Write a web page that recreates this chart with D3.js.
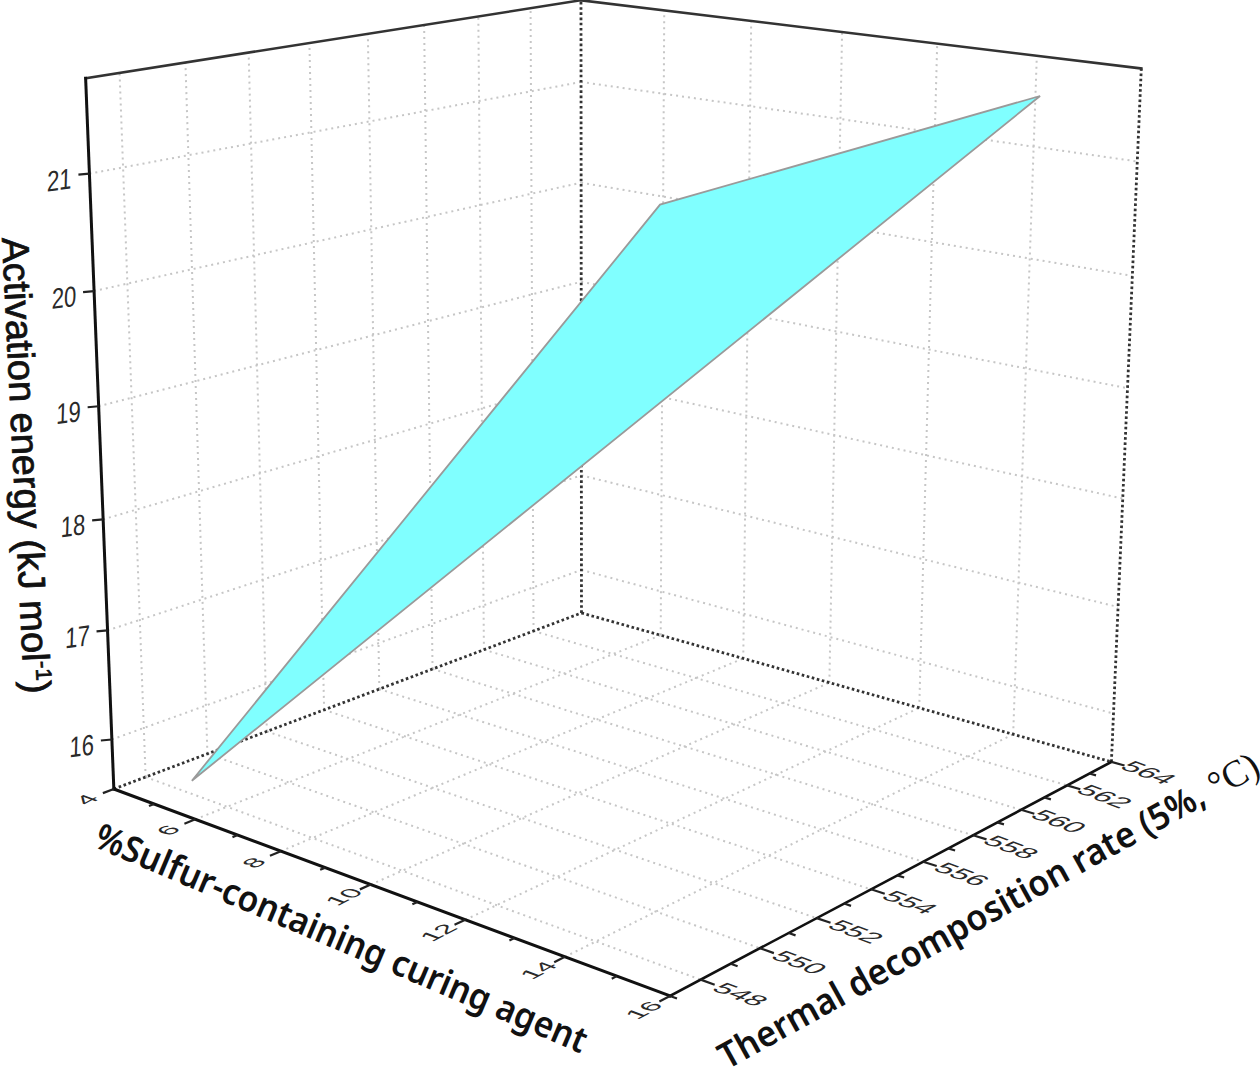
<!DOCTYPE html>
<html><head><meta charset="utf-8"><style>html,body{margin:0;background:#fff}svg{display:block}</style>
<script src="https://cdn.jsdelivr.net/npm/d3@7"></script></head><body><script>
// ---- data ----
const sulfur=[5,10,15];
const decomposition=[548.2,556.94,561.97];
const activation=[15.62,20.6,21.6];
const xMajor=[4,6,8,10,12,14,16];
const xMinor=[5,7,9,11,13,15];
const yMajor=[548,550,552,554,556,558,560,562,564];
const yMinor=[547,549,551,553,555,557,559,561,563];
const zMajor=[16,17,18,19,20,21];
const xDomain=[4,16], yDomain=[547,564], zDomain=[15.54,21.8];
const xTitle="%Sulfur-containing curing agent";
const yTitle="Thermal decomposition rate (5%,";
const yTitleUnit="°C)";
const zTitle="Activation energy (kJ mol";

// ---- camera ----
const camera=[[461.401,564.8815,-32.9846,113.8415],[66.0796,-73.5219,-715.1761,789.0073],[-0.141407,0.167243,-0.05576,1]];
const sx=d3.scaleLinear().domain(xDomain).range([0,1]);
const sy=d3.scaleLinear().domain(yDomain).range([0,1]);
const sz=d3.scaleLinear().domain(zDomain).range([0,1]);
function P(x,y,z){const u=sx(x),v=sy(y),w=sz(z);
  const h=camera[2][0]*u+camera[2][1]*v+camera[2][2]*w+camera[2][3];
  return [(camera[0][0]*u+camera[0][1]*v+camera[0][2]*w+camera[0][3])/h,
          (camera[1][0]*u+camera[1][1]*v+camera[1][2]*w+camera[1][3])/h];}
const [x0,x1]=xDomain,[y0,y1]=yDomain,[z0,z1]=zDomain;
const unit=(a,b)=>{const d=Math.hypot(b[0]-a[0],b[1]-a[1]);return [(b[0]-a[0])/d,(b[1]-a[1])/d];};
const ex=unit(P(x0,y0,z0),P(x1,y0,z0)), ey=unit(P(x1,y0,z0),P(x1,y1,z0));

const svg=d3.select("body").append("svg").attr("width",1260).attr("height",1068);
const line=d3.line();
const seg=(a,b,cls)=>svg.append("path").attr("d",line([a,b])).attr("fill","none").call(cls);
const grid=s=>s.attr("stroke","#c6c6c6").attr("stroke-width",2).attr("stroke-dasharray","2 4");
const dark=s=>s.attr("stroke","#333").attr("stroke-width",2.8).attr("stroke-dasharray","2.6 2.6");
const solid=(w,c)=>s=>s.attr("stroke",c).attr("stroke-width",w).attr("stroke-linecap","square");

// ---- grid on the walls and floor ----
const gridX=xMajor.slice(1,-1), gridY=yMajor.slice(0,-1);
gridX.forEach(x=>{seg(P(x,y1,z0),P(x,y1,z1),grid);seg(P(x,y0,z0),P(x,y1,z0),grid);});
gridY.forEach(y=>{seg(P(x0,y,z0),P(x0,y,z1),grid);seg(P(x0,y,z0),P(x1,y,z0),grid);});
zMajor.forEach(z=>{seg(P(x0,y0,z),P(x0,y1,z),grid);seg(P(x0,y1,z),P(x1,y1,z),grid);});

// ---- back edges ----
seg(P(x0,y0,z0),P(x0,y1,z0),dark);
seg(P(x0,y1,z0),P(x1,y1,z0),dark);
seg(P(x0,y1,z0),P(x0,y1,z1),dark);
seg(P(x1,y1,z0),P(x1,y1,z1),dark);

// ---- surface ----
svg.append("path").datum(sulfur.map((x,i)=>P(x,decomposition[i],activation[i])))
  .attr("d",d=>line(d)+"Z").attr("fill","#80ffff").attr("stroke","#9a9a9a").attr("stroke-width",1.8).attr("stroke-linejoin","miter");

// ---- frame ----
seg(P(x0,y0,z1),P(x0,y1,z1),solid(2.6,"#333"));
seg(P(x0,y1,z1),P(x1,y1,z1),solid(2.6,"#333"));
seg(P(x0,y0,z0),P(x0,y0,z1),solid(3,"#111"));
seg(P(x0,y0,z0),P(x1,y0,z0),solid(3,"#111"));
seg(P(x1,y0,z0),P(x1,y1,z0),solid(2.6,"#111"));

// ---- ticks ----
const tick=s=>s.attr("stroke","#222").attr("stroke-width",2.2);
xMajor.forEach(x=>seg(P(x,y0,z0),P(x,y0-0.34,z0),tick));
xMinor.forEach(x=>seg(P(x,y0,z0),P(x,y0-0.16,z0),tick));
yMajor.forEach(y=>seg(P(x1,y,z0),P(x1+0.26,y,z0),tick));
yMinor.forEach(y=>seg(P(x1,y,z0),P(x1+0.13,y,z0),tick));
zMajor.forEach(z=>{const p=P(x0,y0,z);seg(p,[p[0]-11,p[1]+1],tick);});

// ---- tick labels, lying in the floor plane ----
const numFont="'Liberation Sans',Arial,sans-serif";
const lab=(t,m,size)=>svg.append("text").attr("transform",`matrix(${m.join(" ")})`)
  .attr("text-anchor","middle").attr("dy","0.36em").attr("font-family",numFont).attr("font-size",size).attr("fill","#2a2a2a").text(t);
xMajor.forEach(x=>{const p=P(x,y0-0.85,z0);lab(x,[ey[0]*1.25,ey[1]*1.25,ex[0],ex[1],p[0],p[1]],22);});
yMajor.forEach(y=>{const p=P(x1+0.74,y,z0);lab(y,[ex[0]*1.22,ex[1]*1.22,-ey[0],-ey[1],p[0],p[1]],24);});
zMajor.forEach(z=>{const p=P(x0,y0,z);lab(z,[0.76,-0.1,-0.03,1,p[0]-30,p[1]+6],29);});

// ---- axis titles ----
const titleFont="'Noto Sans','Open Sans',sans-serif";
svg.append("text").attr("transform","translate(92,846) rotate(23)").attr("font-family",titleFont)
  .attr("font-weight",600).attr("font-size",36).attr("fill","#111")
  .attr("textLength",531).attr("lengthAdjust","spacingAndGlyphs").text(xTitle);
const ytFrame="translate(727,1070) rotate(-29)";
svg.append("text").attr("transform",ytFrame).attr("font-family",titleFont)
  .attr("font-weight",600).attr("font-size",36).attr("fill","#111")
  .attr("textLength",550).attr("lengthAdjust","spacingAndGlyphs").text(yTitle);
svg.append("text").attr("transform",ytFrame+" translate(560,0)").attr("font-family","'Liberation Serif',serif")
  .attr("font-size",38).attr("fill","#111")
  .attr("textLength",52).attr("lengthAdjust","spacingAndGlyphs").text(yTitleUnit);
const zt=svg.append("text").attr("transform","translate(2,238) rotate(87.2)").attr("font-family",numFont)
  .attr("font-weight",400).attr("font-size",38).attr("fill","#111").attr("stroke","#111").attr("stroke-width",0.8).text(zTitle);
zt.append("tspan").attr("dy",-13).attr("font-size",22).text("-1");
zt.append("tspan").attr("dy",13).text(")");
</script></body></html>
